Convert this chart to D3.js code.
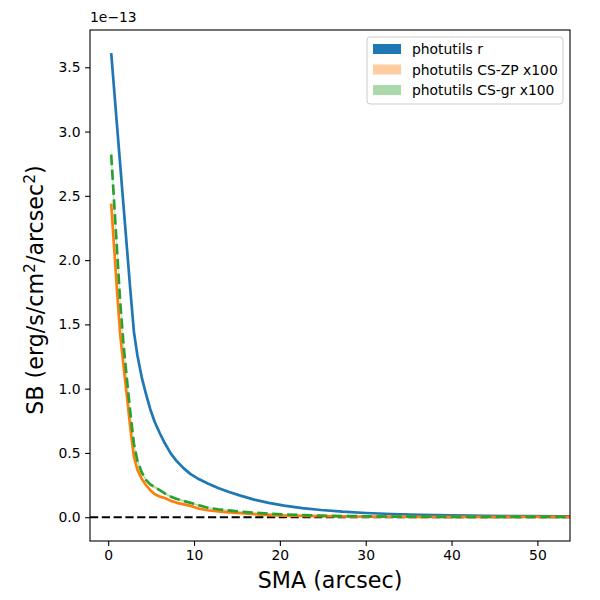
<!DOCTYPE html>
<html>
<head>
<meta charset="utf-8">
<script src="https://cdn.jsdelivr.net/npm/d3@7"></script>
<style>
  body { margin: 0; background: #fff; }
  svg { font-family: "DejaVu Sans", sans-serif; }
</style>
</head>
<body>
<svg id="chart" width="600" height="600"></svg>
<script>
'use strict';

// ── Data (SB in units of 1e-13) ─────────────────────────────────────────────
const sma = [0.35, 0.7, 1.0, 1.4, 1.8, 2.2, 2.6, 3.0, 3.4, 3.9, 4.4, 4.9, 5.4, 6.0, 6.6, 7.3,
             8.0, 8.8, 9.6, 10.6, 11.6, 12.8, 14.0, 15.4, 17.0, 18.7, 20.5, 22.6, 24.8, 27.3,
             30.0, 33.0, 36.3, 40.0, 44.0, 48.4, 53.2, 54.5];

const sbR    = [3.61, 3.32, 3.07, 2.74, 2.41, 2.08, 1.75, 1.44, 1.26, 1.09, 0.96, 0.84, 0.745, 0.655, 0.575, 0.495,
                0.435, 0.38, 0.335, 0.295, 0.262, 0.228, 0.198, 0.168, 0.137, 0.112, 0.09, 0.071, 0.056, 0.043,
                0.033, 0.025, 0.019, 0.014, 0.010, 0.008, 0.006, 0.006];
const errR   = [0.01, 0.01, 0.01, 0.01, 0.01, 0.01, 0.01, 0.01, 0.008, 0.008, 0.006, 0.006, 0.005, 0.005, 0.004, 0.004,
                0.003, 0.003, 0.003, 0.002, 0.002, 0.002, 0.002, 0.002, 0.001, 0.001, 0.001, 0.001, 0.001, 0.001,
                0.001, 0.001, 0.001, 0.001, 0.001, 0.001, 0.001, 0.001];

const sbZP   = [2.44, 2.09, 1.79, 1.42, 1.17, 0.93, 0.68, 0.47, 0.37, 0.30, 0.25, 0.21, 0.18, 0.16, 0.15, 0.127,
                0.112, 0.10, 0.088, 0.066, 0.054, 0.046, 0.038, 0.031, 0.023, 0.017, 0.013, 0.010, 0.008, 0.006,
                0.005, 0.004, 0.003, 0.003, 0.003, 0.002, 0.002, 0.002];
const errZP  = [0.05, 0.04, 0.035, 0.03, 0.025, 0.02, 0.018, 0.015, 0.012, 0.01, 0.01, 0.009, 0.008, 0.008, 0.007, 0.007,
                0.006, 0.006, 0.005, 0.005, 0.005, 0.004, 0.004, 0.004, 0.004, 0.003, 0.003, 0.003, 0.003, 0.003,
                0.003, 0.003, 0.003, 0.003, 0.003, 0.003, 0.003, 0.003];

const sbGR   = [2.82, 2.44, 2.11, 1.67, 1.33, 1.06, 0.80, 0.57, 0.44, 0.35, 0.29, 0.255, 0.235, 0.21, 0.185, 0.16,
                0.142, 0.126, 0.112, 0.092, 0.074, 0.062, 0.053, 0.043, 0.035, 0.028, 0.022, 0.016, 0.012, 0.009,
                0.007, 0.005, 0.004, 0.003, 0.003, 0.003, 0.002, 0.002];
const errGR  = [0.06, 0.05, 0.04, 0.035, 0.03, 0.025, 0.02, 0.018, 0.014, 0.012, 0.011, 0.01, 0.009, 0.009, 0.008, 0.008,
                0.007, 0.007, 0.006, 0.006, 0.005, 0.005, 0.005, 0.004, 0.004, 0.004, 0.003, 0.003, 0.003, 0.003,
                0.003, 0.003, 0.003, 0.003, 0.003, 0.003, 0.003, 0.003];

const xTicks = [0, 10, 20, 30, 40, 50];
const yTicks = [0, 0.5, 1.0, 1.5, 2.0, 2.5, 3.0, 3.5];

const seriesList = [
  { name: 'photutils r',          y: sbR,  err: errR,  color: '#1f77b4', bandAlpha: 1.0, dash: null },
  { name: 'photutils CS-ZP x100', y: sbZP, err: errZP, color: '#ff7f0e', bandAlpha: 0.4, dash: null },
  { name: 'photutils CS-gr x100', y: sbGR, err: errGR, color: '#2ca02c', bandAlpha: 0.4, dash: '10.4,4.5' },
];

// ── Layout ─────────────────────────────────────────────────────────────────
const svg = d3.select('#chart');
const margin = { left: 90, right: 30, top: 30, bottom: 59 };
const W = 600 - margin.left - margin.right;
const H = 600 - margin.top - margin.bottom;

const x = d3.scaleLinear().domain([-2.12, 53.8]).range([0, W]);
const y = d3.scaleLinear().domain([-0.185, 3.79]).range([H, 0]);

const g = svg.append('g').attr('transform', `translate(${margin.left},${margin.top})`);

svg.append('defs').append('clipPath').attr('id', 'clip')
  .append('rect').attr('width', W).attr('height', H);

const plot = g.append('g').attr('clip-path', 'url(#clip)');

// ── Bands + lines ─────────────────────────────────────────────────────────
seriesList.forEach(s => {
  const area = d3.area()
    .x((d, i) => x(sma[i]))
    .y0((d, i) => y(d - s.err[i]))
    .y1((d, i) => y(d + s.err[i]));
  plot.append('path')
    .datum(s.y)
    .attr('d', area)
    .attr('fill', s.color)
    .attr('fill-opacity', s.bandAlpha);
});

// zero line
plot.append('line')
  .attr('x1', 0).attr('x2', W)
  .attr('y1', y(0)).attr('y2', y(0))
  .attr('stroke', '#000').attr('stroke-width', 1.9)
  .attr('stroke-dasharray', '8.2,3.6');

seriesList.forEach(s => {
  const line = d3.line().x((d, i) => x(sma[i])).y(d => y(d));
  plot.append('path')
    .datum(s.y)
    .attr('d', line)
    .attr('fill', 'none')
    .attr('stroke', s.color)
    .attr('stroke-width', 2.7)
    .attr('stroke-linejoin', 'round')
    .attr('stroke-dasharray', s.dash);
});

// ── Axes ───────────────────────────────────────────────────────────────────
const xAxis = g.append('g').attr('transform', `translate(0,${H})`)
  .call(d3.axisBottom(x).tickValues(xTicks).tickSize(4.9).tickPadding(4.5).tickFormat(d3.format('d')));
const yAxis = g.append('g')
  .call(d3.axisLeft(y).tickValues(yTicks).tickSize(4.9).tickPadding(4.5).tickFormat(d3.format('.1f')));

[xAxis, yAxis].forEach(a => {
  a.select('.domain').remove();
  a.selectAll('.tick line').attr('stroke', '#000').attr('stroke-width', 1.1);
  a.selectAll('.tick text').attr('fill', '#000').style('font-size', '13.9px')
    .style('font-family', '"DejaVu Sans", sans-serif');
});

g.append('rect').attr('width', W).attr('height', H)
  .attr('fill', 'none').attr('stroke', '#000').attr('stroke-width', 1.1);

// offset text
g.append('text').attr('x', 0).attr('y', -8)
  .style('font-size', '13.9px').text('1e\u221213');

// axis labels
svg.append('text')
  .attr('x', margin.left + W / 2).attr('y', 588)
  .attr('text-anchor', 'middle').style('font-size', '22.2px')
  .text('SMA (arcsec)');

const yl = svg.append('text')
  .attr('transform', `translate(43,290) rotate(-90)`)
  .attr('text-anchor', 'middle').style('font-size', '22.2px');
yl.append('tspan').text('SB (erg/s/cm');
yl.append('tspan').attr('dy', -8).style('font-size', '15.5px').text('2');
yl.append('tspan').attr('dy', 8).text('/arcsec');
yl.append('tspan').attr('dy', -8).style('font-size', '15.5px').text('2');
yl.append('tspan').attr('dy', 8).text(')');

// ── Legend ─────────────────────────────────────────────────────────────────
const lg = svg.append('g').attr('transform', 'translate(367,37)');
lg.append('rect').attr('width', 196).attr('height', 67).attr('rx', 3)
  .attr('fill', '#fff').attr('fill-opacity', 0.8)
  .attr('stroke', '#ccc').attr('stroke-width', 1);
seriesList.forEach((s, i) => {
  const row = lg.append('g').attr('transform', `translate(6,${7 + i * 20.5})`);
  row.append('rect').attr('width', 28).attr('height', 10)
    .attr('fill', s.color).attr('fill-opacity', s.bandAlpha);
  row.append('text').attr('x', 39).attr('y', 10).style('font-size', '13.9px').text(s.name);
});
</script>
</body>
</html>
